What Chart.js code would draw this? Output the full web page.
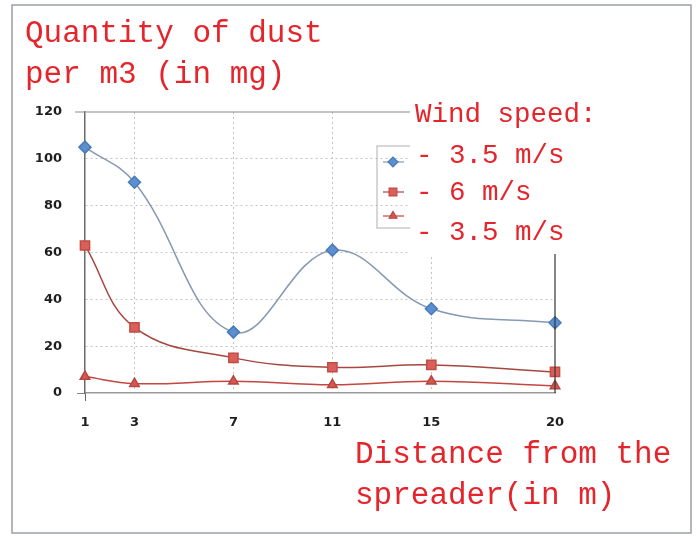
<!DOCTYPE html>
<html>
<head>
<meta charset="utf-8">
<script src="https://cdn.jsdelivr.net/npm/chart.js@4/dist/chart.umd.min.js"></script>
<style>
  body { margin: 0; background: #fff; }
  canvas { display: block; }
</style>
</head>
<body>
<canvas id="dust" width="699" height="541"></canvas>
<script>
// distances from the spreader (m)
var distances = [1, 3, 7, 11, 15, 20];
// dust per m3 (mg) for each wind speed
var windA = [105, 90, 26, 61, 36, 30];
var windB = [63, 28, 15, 11, 12, 9];
var windC = [7, 4, 5, 3.5, 5, 3];
var yTicks = [0, 20, 40, 60, 80, 100, 120];

var yTitle = ["Quantity of dust", "per m3 (in mg)"];
var xTitle = ["Distance from the", "spreader(in m)"];
var legendTitle = "Wind speed:";
var seriesNames = ["- 3.5 m/s", "- 6 m/s", "- 3.5 m/s"];

var RED_TEXT = "#e4252c";
var MONO = "'Liberation Mono', 'DejaVu Sans Mono', monospace";

function pts(vals) {
    return vals.map(function (v, i) { return { x: distances[i], y: v }; });
}

function textBox(ctx, str, x, y, size) {
    ctx.font = size + "px " + MONO;
    var w = ctx.measureText(str).width;
    ctx.fillStyle = "#fff";
    ctx.fillRect(x - 5, y - size * 0.95, w + 10, size * 1.45);
    ctx.fillStyle = RED_TEXT;
    ctx.textBaseline = "alphabetic";
    ctx.textAlign = "left";
    ctx.fillText(str, x, y);
}

var overlay = {
    id: "overlay",
    beforeDraw: function (chart) {
        var ctx = chart.ctx;
        ctx.save();
        ctx.fillStyle = "#fff";
        ctx.fillRect(0, 0, chart.width, chart.height);
        ctx.strokeStyle = "#9aa0a8";
        ctx.lineWidth = 1.5;
        ctx.strokeRect(12, 5, 679, 528);
        ctx.restore();
    },
    afterDatasetsDraw: function (chart) {
        var ctx = chart.ctx;
        var xs = chart.scales.x, ys = chart.scales.y;
        ctx.save();
        // top frame line and right edge
        ctx.strokeStyle = "#8a8a8a";
        ctx.lineWidth = 1.2;
        ctx.beginPath();
        ctx.moveTo(xs.getPixelForValue(1) - 10, ys.getPixelForValue(120));
        ctx.lineTo(xs.getPixelForValue(20), ys.getPixelForValue(120));
        ctx.stroke();
        ctx.strokeStyle = "#333";
        ctx.beginPath();
        ctx.moveTo(xs.getPixelForValue(20), ys.getPixelForValue(120));
        ctx.lineTo(xs.getPixelForValue(20), ys.getPixelForValue(0));
        ctx.stroke();

        // legend box
        ctx.strokeStyle = "#b0b0b0";
        ctx.lineWidth = 1;
        ctx.strokeRect(377, 146, 60, 82);
        var rows = [162, 192, 216];
        chart.data.datasets.forEach(function (ds, i) {
            ctx.strokeStyle = ds.borderColor;
            ctx.lineWidth = 1.2;
            ctx.beginPath();
            ctx.moveTo(383, rows[i]);
            ctx.lineTo(404, rows[i]);
            ctx.stroke();
            ctx.fillStyle = ds.pointBackgroundColor;
            ctx.strokeStyle = ds.pointBorderColor;
            Chart.helpers.drawPoint(ctx, {
                pointStyle: ds.pointStyle, radius: ds.pointRadius - 1,
                borderWidth: 1, rotation: 0
            }, 393, rows[i]);
        });

        // pasted label over the legend area
        ctx.fillStyle = "#fff";
        ctx.fillRect(410, 96, 196, 158);

        // red hand-written style labels
        textBox(ctx, yTitle[0], 25, 42, 31);
        textBox(ctx, yTitle[1], 25, 83, 31);
        textBox(ctx, legendTitle, 415, 122, 27.5);
        textBox(ctx, seriesNames[0], 416, 163, 27.5);
        textBox(ctx, seriesNames[1], 416, 200, 27.5);
        textBox(ctx, seriesNames[2], 416, 240, 27.5);
        textBox(ctx, xTitle[0], 355, 463, 31);
        textBox(ctx, xTitle[1], 355, 504, 31);
        ctx.restore();
    }
};

new Chart("dust", {
    type: "line",
    data: {
        datasets: [{
            label: seriesNames[0],
            data: pts(windA),
            borderColor: "#8799b3",
            borderWidth: 1.5,
            pointStyle: "rectRot",
            pointRadius: 6,
            pointBackgroundColor: "#5b8fd0",
            pointBorderColor: "#4a7ab8",
            tension: 0.4,
            clip: false
        }, {
            label: seriesNames[1],
            data: pts(windB),
            borderColor: "#a5473f",
            borderWidth: 1.5,
            pointStyle: "rect",
            pointRadius: 6.5,
            pointBackgroundColor: "#d9605a",
            pointBorderColor: "#c44a45",
            tension: 0.4,
            clip: false
        }, {
            label: seriesNames[2],
            data: pts(windC),
            borderColor: "#c4473f",
            borderWidth: 1.5,
            pointStyle: "triangle",
            pointRadius: 5.5,
            pointBackgroundColor: "#d25a50",
            pointBorderColor: "#b84540",
            tension: 0.4,
            clip: false
        }]
    },
    options: {
        responsive: false,
        animation: false,
        layout: { padding: { left: 25, right: 144, top: 112, bottom: 108 } },
        plugins: { legend: { display: false }, tooltip: { enabled: false } },
        scales: {
            x: {
                type: "linear",
                min: 1,
                max: 20,
                afterBuildTicks: function (axis) {
                    axis.ticks = distances.map(function (d) { return { value: d }; });
                },
                afterFit: function (axis) { axis.height = 40; },
                ticks: {
                    color: "#1e1e1e",
                    font: { family: "'DejaVu Sans'", weight: "bold", size: 13 },
                    padding: 14
                },
                grid: {
                    color: function (c) {
                        var v = c.tick ? c.tick.value : null;
                        return (v === 1 || v === 20) ? "rgba(0,0,0,0)" : "#c4c4c4";
                    },
                    tickColor: function (c) {
                        return (c.tick && c.tick.value === 1) ? "#666" : "rgba(0,0,0,0)";
                    },
                    tickLength: 8,
                    lineWidth: 1
                },
                border: { display: true, color: "#9a9a9a", width: 1.5, dash: [2, 3] }
            },
            y: {
                min: 0,
                max: 120,
                afterBuildTicks: function (axis) {
                    axis.ticks = yTicks.map(function (v) { return { value: v }; });
                },
                afterFit: function (axis) { axis.width = 60; },
                ticks: {
                    color: "#1e1e1e",
                    font: { family: "'DejaVu Sans'", weight: "bold", size: 13 },
                    padding: 15
                },
                grid: {
                    color: function (c) {
                        var v = c.tick ? c.tick.value : null;
                        return (v === 0 || v === 120) ? "rgba(0,0,0,0)" : "#c4c4c4";
                    },
                    tickColor: function (c) {
                        return (c.tick && c.tick.value === 0) ? "#888" : "rgba(0,0,0,0)";
                    },
                    tickLength: 8,
                    lineWidth: 1
                },
                border: { display: true, color: "#6a6a6a", width: 1.5, dash: [2, 3] }
            }
        }
    },
    plugins: [overlay]
});
</script>
</body>
</html>
